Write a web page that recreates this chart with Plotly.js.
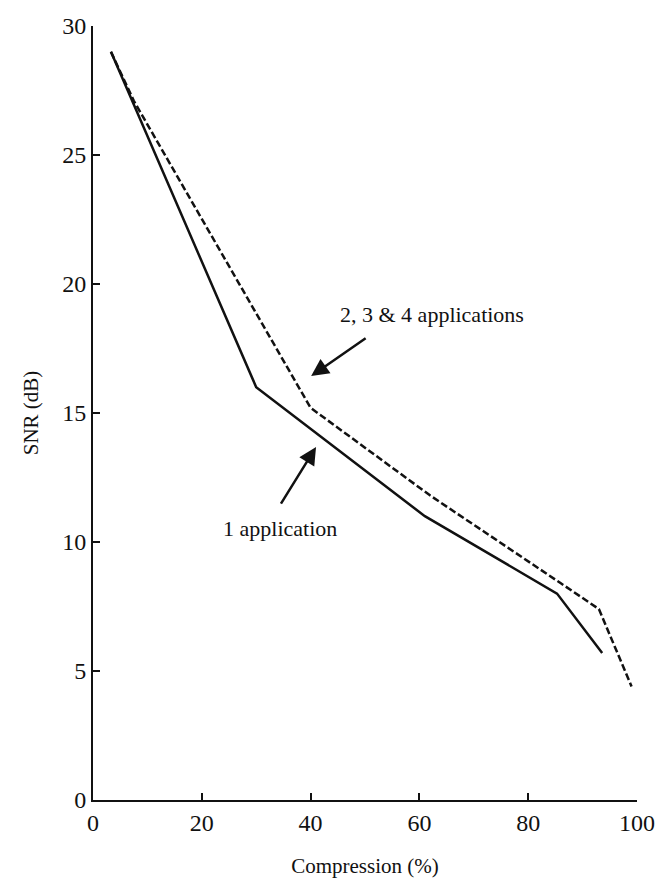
<!DOCTYPE html>
<html>
<head>
<meta charset="utf-8">
<script src="https://cdn.plot.ly/plotly-3.0.1.min.js"></script>
<style>html,body{margin:0;padding:0;background:#fff;} #chart{width:659px;height:895px;}</style>
</head>
<body>
<div id="chart"></div>
<script>
// Data
const compOne = [3.3, 30, 61, 85.3, 93.6];
const snrOne  = [29, 16, 11, 8, 5.7];
const compMulti = [3.3, 7.5, 40, 62, 86, 93, 99];
const snrMulti  = [29, 27.1, 15.2, 11.8, 8.4, 7.4, 4.4];
const xTicks = [0, 20, 40, 60, 80, 100];
const yTicks = [0, 5, 10, 15, 20, 25, 30];
const labelMulti = "2, 3 & 4 applications";
const labelOne = "1 application";

const FONT = "Liberation Serif, Times New Roman, serif";

const traces = [
  {x: compOne, y: snrOne, mode: 'lines', name: labelOne,
   line: {color: '#111', width: 2.5}},
  {x: compMulti, y: snrMulti, mode: 'lines', name: labelMulti,
   line: {color: '#111', width: 2.5, dash: '7px,3px'}}
];

const layout = {
  width: 659, height: 895,
  margin: {l: 93, r: 22, t: 26, b: 95},
  paper_bgcolor: '#fff', plot_bgcolor: '#fff',
  showlegend: false,
  font: {family: FONT, color: '#111', size: 22},
  xaxis: {
    range: [0, 100], tickvals: xTicks, ticktext: xTicks.map(String),
    showline: true, linecolor: '#111', linewidth: 2,
    ticks: 'inside', ticklen: 7, tickwidth: 2, tickcolor: '#111',
    showgrid: false, zeroline: false,
    tickfont: {family: FONT, size: 24},
    title: {text: 'Compression (%)', font: {family: FONT, size: 21}, standoff: 24}
  },
  yaxis: {
    range: [0, 30], tickvals: yTicks, ticktext: yTicks.map(String),
    showline: true, linecolor: '#111', linewidth: 2,
    ticks: 'inside', ticklen: 7, tickwidth: 2, tickcolor: '#111',
    showgrid: false, zeroline: false,
    tickfont: {family: FONT, size: 24},
    title: {text: 'SNR (dB)', font: {family: FONT, size: 21}, standoff: 18}
  },
  annotations: [
    {x: 62.3, y: 18.8, xref: 'x', yref: 'y', text: labelMulti, showarrow: false,
     font: {family: FONT, size: 22}},
    {x: 40.1, y: 16.43, xref: 'x', yref: 'y', text: '', showarrow: true,
     ax: 56, ay: -39, arrowhead: 2, arrowsize: 1.4, arrowwidth: 2.5, arrowcolor: '#111'},
    {x: 34.4, y: 10.54, xref: 'x', yref: 'y', text: labelOne, showarrow: false,
     font: {family: FONT, size: 22}},
    {x: 41.0, y: 13.68, xref: 'x', yref: 'y', text: '', showarrow: true,
     ax: -36, ay: 58, arrowhead: 2, arrowsize: 1.4, arrowwidth: 2.5, arrowcolor: '#111'}
  ]
};

Plotly.newPlot('chart', traces, layout, {staticPlot: true, displayModeBar: false});
</script>
</body>
</html>
